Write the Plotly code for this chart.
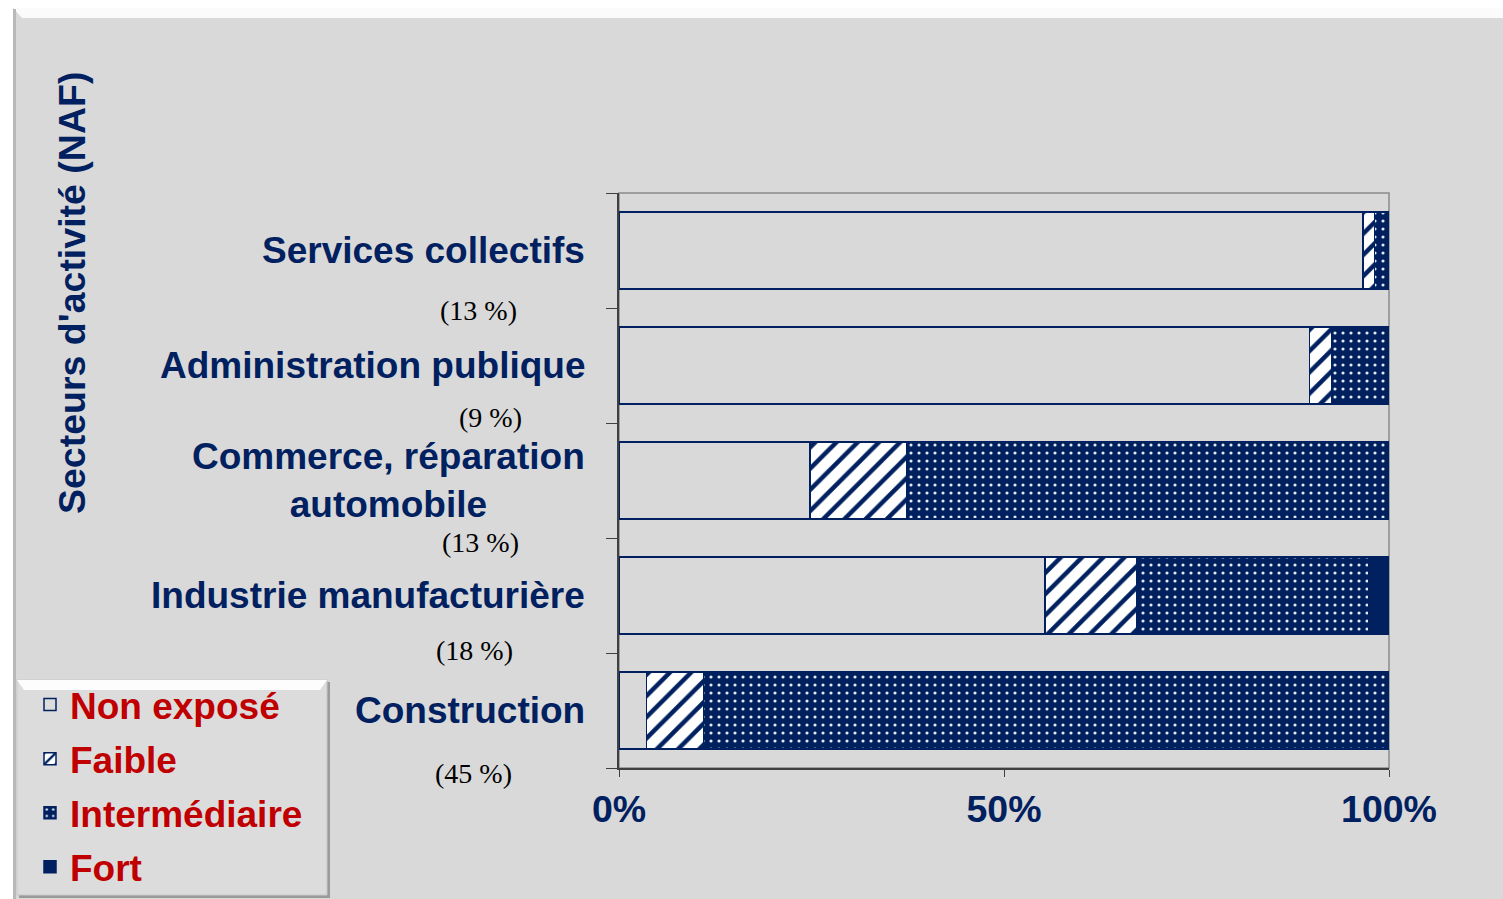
import plotly.graph_objects as go

W, H = 1503, 899

# ---- data (bottom to top) ----
categories = ["Construction", "Industrie manufacturière", "Commerce, réparation automobile",
              "Administration publique", "Services collectifs"]
category_labels = ["Construction", "Industrie manufacturière", "Commerce, réparation<br>automobile",
                   "Administration publique", "Services collectifs"]
shares = ["(45 %)", "(18 %)", "(13 %)", "(9 %)", "(13 %)"]
non_expose = [3.6, 55.3, 24.8, 89.7, 96.6]
faible = [7.4, 12.0, 12.6, 2.9, 1.5]
intermediaire = [88.6, 30.1, 62.2, 7.4, 1.9]
fort = [0.4, 2.6, 0.4, 0.0, 0.0]
x_ticks = [0, 50, 100]

# label placement tweaks (pixels)
share_x = [473, 474, 480, 490, 478]
share_yshift = [-5, 3, -4, 6, -2]

NAVY = "#002060"
RED = "#c00000"
FONT = "Liberation Sans"


def px(x):
    return x / W


def py(y):
    return 1 - y / H


fig = go.Figure()
line = dict(color=NAVY, width=1.5)
fig.add_trace(go.Bar(y=categories, x=non_expose, orientation="h", name="Non exposé",
                     legendgroup="a",
                     marker=dict(color="rgba(0,0,0,0)", line=line)))
fig.add_trace(go.Bar(y=categories, x=faible, orientation="h", name="Faible",
                     legendgroup="b",
                     marker=dict(color="white", line=line,
                                 pattern=dict(shape="/", fgcolor=NAVY, bgcolor="white",
                                              size=15, solidity=0.3, fillmode="replace"))))
fig.add_trace(go.Bar(y=categories, x=intermediaire, orientation="h", name="Intermédiaire",
                     legendgroup="c",
                     marker=dict(color=NAVY, line=line,
                                 pattern=dict(shape=".", fgcolor="#e2e8f4", bgcolor=NAVY,
                                              size=8, solidity=0.12, fillmode="replace"))))
fig.add_trace(go.Bar(y=categories, x=fort, orientation="h", name="Fort",
                     legendgroup="d",
                     marker=dict(color=NAVY, line=line)))

shapes = []
# background panel
shapes.append(dict(type="rect", xref="paper", yref="paper", x0=px(13), x1=1, y0=0, y1=py(8),
                   fillcolor="#d9d9d9", line=dict(width=0), layer="below"))
shapes.append(dict(type="path", xref="paper", yref="paper",
                   path=f"M {px(13)} {py(8)} L 1 {py(8)} L 1 {py(18)} L {px(22)} {py(18)} Z",
                   fillcolor="#fbfbfb", line=dict(width=0), layer="below"))
shapes.append(dict(type="rect", xref="paper", yref="paper", x0=px(13), x1=px(16), y0=0, y1=py(9),
                   fillcolor="#b8b8b8", line=dict(width=0), layer="below"))
# legend box
shapes.append(dict(type="rect", xref="paper", yref="paper", x0=px(19), x1=px(330), y0=py(898), y1=py(682),
                   fillcolor="#9a9a9a", line=dict(width=0), layer="below"))
shapes.append(dict(type="rect", xref="paper", yref="paper", x0=px(17), x1=px(327), y0=py(895), y1=py(680),
                   fillcolor="#dcdcdc", line=dict(color="#c8c8c8", width=1), layer="below"))
shapes.append(dict(type="path", xref="paper", yref="paper",
                   path=f"M {px(17)} {py(680)} L {px(327)} {py(680)} L {px(320)} {py(690)} L {px(24)} {py(690)} Z",
                   fillcolor="#fdfdfd", line=dict(width=0), layer="below"))
# plot frame (top/right)
shapes.append(dict(type="rect", xref="x domain", yref="y domain", x0=0, x1=1, y0=0, y1=1,
                   line=dict(color="#8a8a8a", width=1.5), layer="below"))
fig.update_layout(shapes=shapes)

annotations = []
for i, lab in enumerate(category_labels):
    annotations.append(dict(x=px(587), xref="paper", y=categories[i], yref="y", text=lab,
                            showarrow=False, xanchor="right", align="center",
                            font=dict(family=FONT, size=37, color=NAVY, weight="bold")))
    annotations.append(dict(x=px(share_x[i]), xref="paper", y=i - 0.5, yref="y", text=shares[i],
                            showarrow=False, xanchor="center", yanchor="middle",
                            yshift=share_yshift[i],
                            font=dict(family="Liberation Serif", size=28, color="black")))
annotations.append(dict(x=px(72), xref="paper", y=py(293), yref="paper",
                        text="Secteurs d'activité (NAF)", textangle=-90, showarrow=False,
                        xanchor="center", yanchor="middle",
                        font=dict(family=FONT, size=37.5, color=NAVY, weight="bold")))
fig.update_layout(annotations=annotations)

fig.update_layout(
    width=W, height=H,
    margin=dict(l=0, r=0, t=0, b=0, autoexpand=False),
    paper_bgcolor="white", plot_bgcolor="rgba(0,0,0,0)",
    barmode="stack", bargap=0.33,
    showlegend=True,
    legend=dict(x=px(30), y=py(674), xanchor="left", yanchor="top",
                bgcolor="rgba(0,0,0,0)", borderwidth=0, traceorder="grouped",
                tracegroupgap=3,
                font=dict(family=FONT, size=37, color=RED, weight="bold")),
    xaxis=dict(domain=[px(619), px(1389)], range=[0, 100], tickvals=x_ticks,
               ticktext=[f"{v}%" for v in x_ticks], ticks="outside", ticklen=7,
               tickcolor="#404040", showline=True, linecolor="#404040", linewidth=1.5,
               showgrid=False, zeroline=False,
               tickfont=dict(family=FONT, size=37.5, color=NAVY, weight="bold")),
    yaxis=dict(domain=[py(768), py(193)], range=[-0.5, 4.5], type="category",
               categoryorder="array", categoryarray=categories,
               showticklabels=False, ticks="outside", ticklen=11, tickson="boundaries",
               tickcolor="#404040", showline=True, linecolor="#404040", linewidth=2,
               showgrid=False, zeroline=False),
)

fig.write_html("out.html")
